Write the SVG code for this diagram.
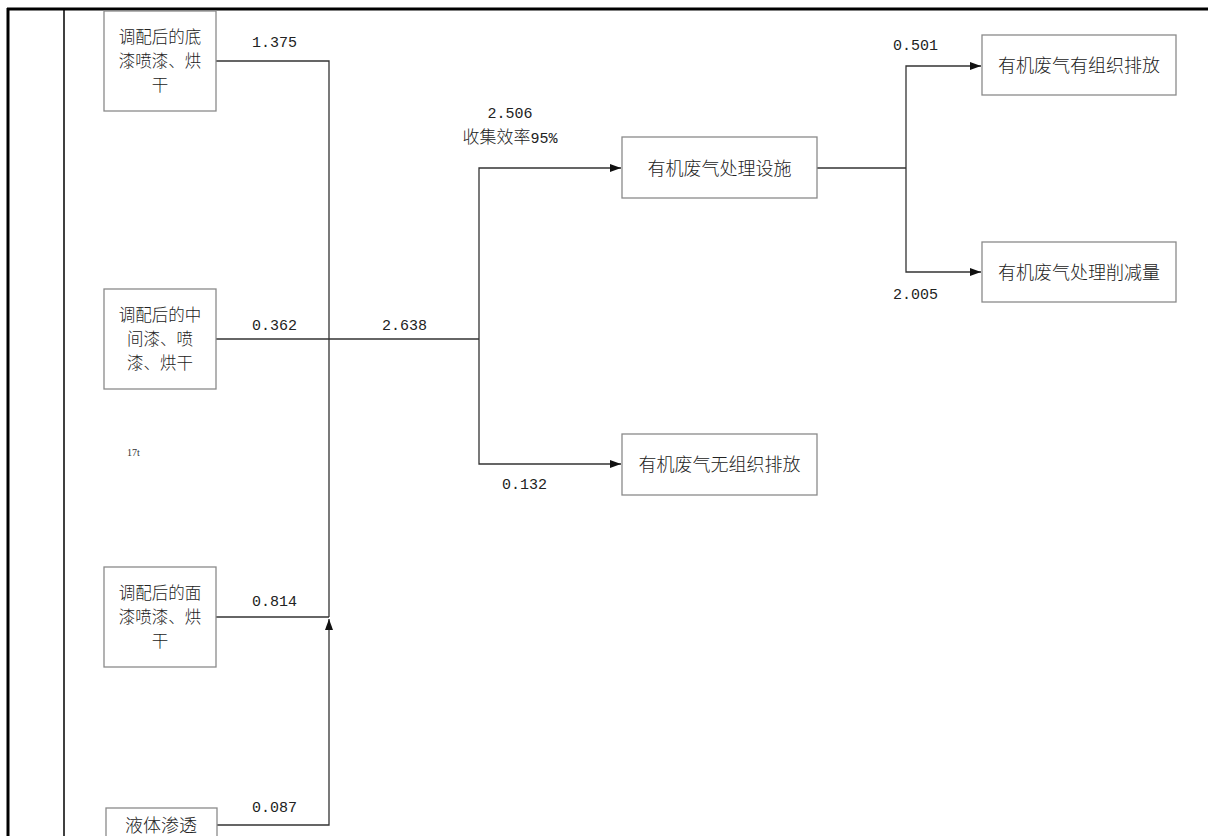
<svg xmlns="http://www.w3.org/2000/svg" width="1208" height="836" viewBox="0 0 1208 836">
<style>
.box{fill:#fff;stroke:#8a8a8a;stroke-width:1.3}
.cj{font-family:"Noto Sans CJK SC","Noto Sans",sans-serif;font-size:18px;font-weight:300;fill:#222;text-anchor:middle}
.cjs{font-family:"Noto Sans CJK SC","Noto Sans",sans-serif;font-size:16.5px;font-weight:300;fill:#222;text-anchor:middle}
.num{font-family:"Liberation Mono","DejaVu Sans Mono",monospace;font-size:15px;fill:#222}
.ln{fill:none;stroke:#333;stroke-width:1.3}
.frame{stroke:#000;fill:none}
</style>
<defs>
<marker id="arr" markerUnits="userSpaceOnUse" markerWidth="11" markerHeight="8" refX="11" refY="4" orient="auto">
<path d="M0,0 L11,4 L0,8 z" fill="#111"/>
</marker>
</defs>
<rect width="1208" height="836" fill="#fff"/>
<g id="frame">
<line class="frame" x1="7" y1="9" x2="1208" y2="9" stroke-width="3"/>
<line class="frame" x1="8" y1="8" x2="8" y2="836" stroke-width="3"/>
<line class="frame" x1="64" y1="9" x2="64" y2="836" stroke-width="1.5"/>
</g>
<g id="connectors">
<path class="ln" d="M216,61 H329 V617"/>
<path class="ln" d="M216,617 H329"/>
<path class="ln" d="M217,825 H329 V619" marker-end="url(#arr)"/>
<path class="ln" d="M216,339 H479"/>
<path class="ln" d="M479,339 V168 H621" marker-end="url(#arr)"/>
<path class="ln" d="M479,339 V464 H621" marker-end="url(#arr)"/>
<path class="ln" d="M817,168 H906"/>
<path class="ln" d="M906,168 V66 H981" marker-end="url(#arr)"/>
<path class="ln" d="M906,168 V272 H981" marker-end="url(#arr)"/>
</g>
<g id="labels">
<text class="num" x="252" y="47">1.375</text>
<text class="num" x="252" y="330">0.362</text>
<text class="num" x="382" y="330">2.638</text>
<text class="num" x="252" y="606">0.814</text>
<text class="num" x="252" y="812">0.087</text>
<text class="num" x="510" y="118" text-anchor="middle">2.506</text>
<text x="510" y="143" text-anchor="middle" style="font-family:'Noto Sans CJK SC','Noto Sans',sans-serif;font-size:17px;font-weight:300;fill:#222">收集效率<tspan style="font-family:'Liberation Mono',monospace;font-size:15px">95%</tspan></text>
<text class="num" x="502" y="489">0.132</text>
<text class="num" x="893" y="50">0.501</text>
<text class="num" x="893" y="299">2.005</text>
<text x="127" y="456" style="font-family:'Liberation Serif',serif;font-size:10px;fill:#333">17t</text>
</g>
<g id="n1">
<rect class="box" x="104" y="11" width="112" height="100"/>
<text class="cjs" x="160" y="43">调配后的底</text>
<text class="cjs" x="160" y="67">漆喷漆、烘</text>
<text class="cjs" x="160" y="91">干</text>
</g>
<g id="n2">
<rect class="box" x="104" y="289" width="112" height="100"/>
<text class="cjs" x="160" y="321">调配后的中</text>
<text class="cjs" x="160" y="345">间漆、喷</text>
<text class="cjs" x="160" y="369">漆、烘干</text>
</g>
<g id="n3">
<rect class="box" x="104" y="567" width="112" height="100"/>
<text class="cjs" x="160" y="599">调配后的面</text>
<text class="cjs" x="160" y="623">漆喷漆、烘</text>
<text class="cjs" x="160" y="647">干</text>
</g>
<g id="n4">
<rect class="box" x="106" y="808" width="111" height="40"/>
<text class="cj" x="161" y="832">液体渗透</text>
</g>
<g id="n5">
<rect class="box" x="622" y="137" width="195" height="61"/>
<text class="cj" x="719.5" y="175">有机废气处理设施</text>
</g>
<g id="n6">
<rect class="box" x="622" y="434" width="195" height="61"/>
<text class="cj" x="719.5" y="471">有机废气无组织排放</text>
</g>
<g id="n7">
<rect class="box" x="982" y="35" width="194" height="60"/>
<text class="cj" x="1079" y="72">有机废气有组织排放</text>
</g>
<g id="n8">
<rect class="box" x="982" y="242" width="194" height="60"/>
<text class="cj" x="1079" y="279">有机废气处理削减量</text>
</g>
</svg>
